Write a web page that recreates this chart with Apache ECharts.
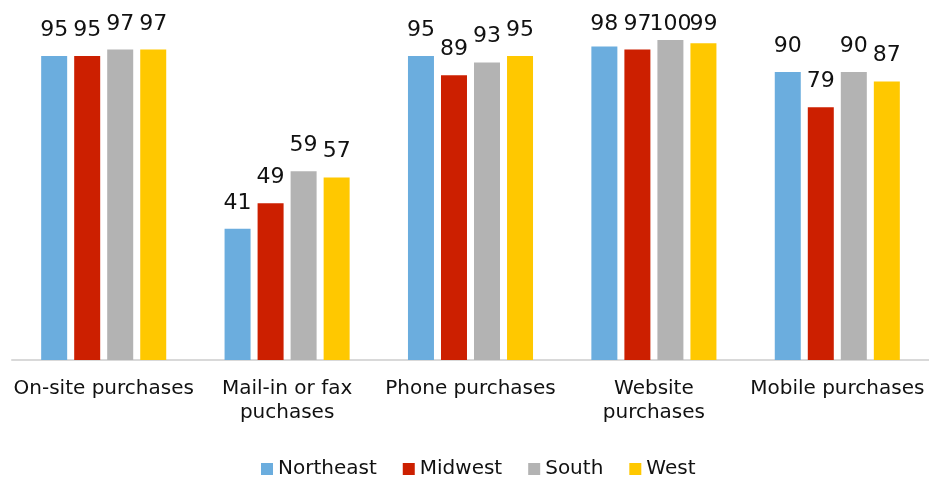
<!DOCTYPE html>
<html>
<head>
<meta charset="utf-8">
<script src="https://cdn.jsdelivr.net/npm/echarts@6/dist/echarts.min.js"></script>
<style>
  html, body { margin: 0; padding: 0; background: #fff; }
  #chart { width: 929px; height: 481px; }
</style>
</head>
<body>
<div id="chart"></div>
<script>
// 分类与数据
const categories = ['On-site purchases', 'Mail-in or fax\npuchases', 'Phone purchases', 'Website\npurchases', 'Mobile purchases'];
const northeast = [95, 41, 95, 98, 90];
const midwest = [95, 49, 89, 97, 79];
const south = [97, 59, 93, 100, 90];
const west = [97, 57, 95, 99, 87];

const seriesNames = ['Northeast', 'Midwest', 'South', 'West'];
const seriesData = [northeast, midwest, south, west];
const colors = ['#6badde', '#cc1f00', '#b3b3b3', '#ffc800'];

const font = 'DejaVu Sans';

const chart = echarts.init(document.getElementById('chart'));

chart.setOption({
    animation: false,
    color: colors,
    textStyle: { fontFamily: font },
    grid: { left: 12, right: 0, top: 40, bottom: 121 },
    legend: {
        data: seriesNames,
        left: 256,
        top: 452,
        icon: 'rect',
        itemWidth: 12,
        itemHeight: 12,
        itemGap: 26,
        textStyle: { fontFamily: font, fontSize: 20, color: '#111', lineHeight: 24 }
    },
    xAxis: {
        type: 'category',
        data: categories,
        axisLine: { lineStyle: { color: '#d9d9d9', width: 2 } },
        axisTick: { show: false },
        axisLabel: {
            interval: 0,
            margin: 17,
            fontFamily: font,
            fontSize: 20,
            lineHeight: 24,
            color: '#111'
        }
    },
    yAxis: {
        type: 'value',
        min: 0,
        max: 100,
        show: false
    },
    series: seriesNames.map((name, i) => ({
        name,
        type: 'bar',
        data: seriesData[i],
        barWidth: 26,
        barGap: '27%',
        label: {
            show: true,
            position: 'top',
            distance: 15,
            fontFamily: font,
            fontSize: 22,
            lineHeight: 22,
            color: '#111'
        },
        // 标签不超出顶部
        labelLayout(p) {
            if (p.labelRect.y < 13) {
                return { dy: 13 - p.labelRect.y };
            }
            return {};
        }
    }))
});
</script>
</body>
</html>
